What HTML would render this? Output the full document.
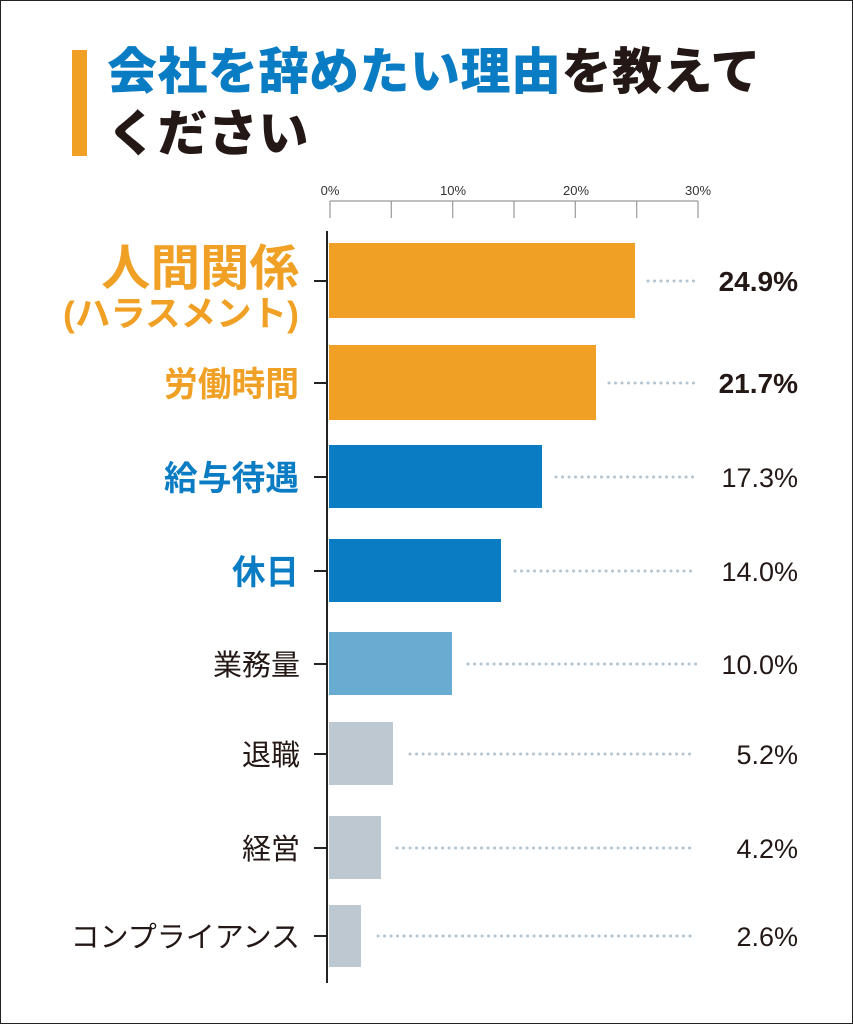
<!DOCTYPE html>
<html><head><meta charset="utf-8"><style>
body{margin:0;background:#fff;}
.wrap{position:relative;width:851px;height:1022px;border:1px solid #222;overflow:hidden;font-family:"Liberation Sans","Noto Sans CJK JP",sans-serif;}
.t{position:absolute;white-space:nowrap;}
</style></head><body><div class="wrap">
<div style="position:absolute;left:71px;top:49px;width:15px;height:106px;background:#f0a024"></div>
<div class="t" style="left:106px;top:40px;font-size:50px;font-weight:900;line-height:62px;color:#231815;letter-spacing:0.5px"><span style="color:#0a7cc4">会社を辞めたい理由</span>を教えて<br>ください</div>
<svg width="851" height="1022" style="position:absolute;left:0;top:0" font-family="Liberation Sans, Noto Sans CJK JP, sans-serif">
<g stroke="#999" stroke-width="1.2">
<line x1="329" y1="200" x2="697" y2="200"/>
<line x1="329" y1="200" x2="329" y2="217"/><line x1="390.3" y1="200" x2="390.3" y2="217"/><line x1="451.7" y1="200" x2="451.7" y2="217"/><line x1="513" y1="200" x2="513" y2="217"/><line x1="574.3" y1="200" x2="574.3" y2="217"/><line x1="635.7" y1="200" x2="635.7" y2="217"/><line x1="697" y1="200" x2="697" y2="217"/>
</g>
<g font-size="13" fill="#333" text-anchor="middle"><text x="329" y="194">0%</text><text x="452" y="194">10%</text><text x="575" y="194">20%</text><text x="697" y="194">30%</text></g>
<line x1="326" y1="230" x2="326" y2="982" stroke="#222" stroke-width="2"/>
<g stroke="#222" stroke-width="2">
<line x1="313" y1="280" x2="326" y2="280"/><line x1="313" y1="382" x2="326" y2="382"/><line x1="313" y1="476" x2="326" y2="476"/><line x1="313" y1="570" x2="326" y2="570"/><line x1="313" y1="663" x2="326" y2="663"/><line x1="313" y1="753" x2="326" y2="753"/><line x1="313" y1="847" x2="326" y2="847"/><line x1="313" y1="935" x2="326" y2="935"/>
</g>
<rect x="328" y="242" width="306" height="75" fill="#f0a024"/>
<rect x="328" y="344" width="267" height="75" fill="#f0a024"/>
<rect x="328" y="444" width="213" height="63" fill="#0a7cc4"/>
<rect x="328" y="538" width="172" height="63" fill="#0a7cc4"/>
<rect x="328" y="631" width="123" height="63" fill="#6aabd2"/>
<rect x="328" y="721" width="64" height="63" fill="#bdc8d0"/>
<rect x="328" y="815" width="52" height="63" fill="#bdc8d0"/>
<rect x="328" y="904" width="32" height="62" fill="#bdc8d0"/>
<g stroke="#b4c4d0" stroke-width="3" stroke-dasharray="0.1 6.4" stroke-linecap="round">
<line x1="647" y1="280" x2="695" y2="280"/><line x1="608" y1="382" x2="695" y2="382"/><line x1="555" y1="476" x2="695" y2="476"/><line x1="514" y1="570" x2="695" y2="570"/><line x1="467" y1="663" x2="695" y2="663"/><line x1="409" y1="753" x2="695" y2="753"/><line x1="396" y1="847" x2="695" y2="847"/><line x1="377" y1="935" x2="695" y2="935"/>
</g>
<g text-anchor="end" fill="#231815" font-size="27">
<text x="797" y="290" font-weight="bold" font-size="28">24.9%</text>
<text x="797" y="392" font-weight="bold" font-size="28">21.7%</text>
<text x="797" y="486">17.3%</text><text x="797" y="580">14.0%</text><text x="797" y="673">10.0%</text><text x="797" y="763">5.2%</text><text x="797" y="857">4.2%</text><text x="797" y="945">2.6%</text>
</g>
<g font-weight="bold">
<text x="100" y="284" font-size="49" fill="#f0a024" textLength="198" lengthAdjust="spacingAndGlyphs">人間関係</text>
<text x="62" y="325" font-size="35" fill="#f0a024" textLength="236" lengthAdjust="spacingAndGlyphs">(ハラスメント)</text>
<text x="163" y="395" font-size="34" fill="#f0a024" textLength="135" lengthAdjust="spacingAndGlyphs">労働時間</text>
<text x="163" y="489" font-size="34" fill="#0a7cc4" textLength="135" lengthAdjust="spacingAndGlyphs">給与待遇</text>
<text x="231" y="583" font-size="34" fill="#0a7cc4" textLength="67" lengthAdjust="spacingAndGlyphs">休日</text>
</g>
<g text-anchor="end" font-size="29" fill="#231815">
<text x="299" y="674">業務量</text><text x="299" y="764">退職</text><text x="299" y="858">経営</text><text x="299" y="946">コンプライアンス</text>
</g>
</svg>
</div></body></html>
